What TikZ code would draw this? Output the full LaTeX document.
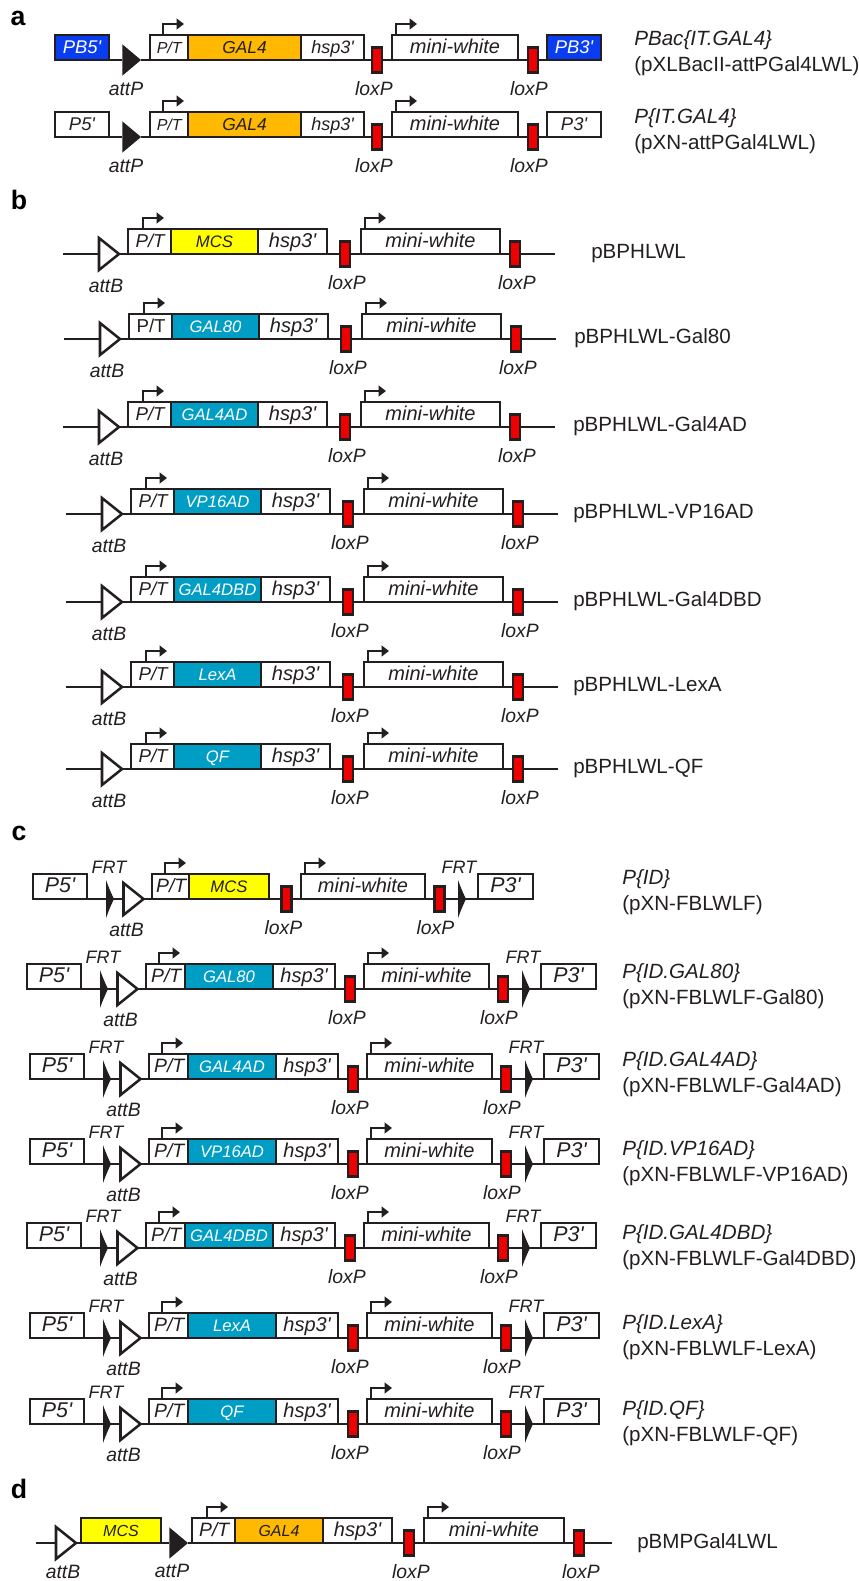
\documentclass[tikz,border=0pt]{standalone}
\usepackage{fontspec}
\setmainfont{Liberation Sans}
\usetikzlibrary{shapes.geometric,arrows.meta}
\definecolor{linedark}{HTML}{231F20}
\definecolor{pbblue}{HTML}{0A3CF0}
\definecolor{galorange}{HTML}{FFB900}
\definecolor{mcsyellow}{HTML}{FFFF00}
\definecolor{genecyan}{HTML}{009DC4}
\definecolor{loxred}{HTML}{EE0000}

\newcommand{\txtsize}[1]{\fontsize{#1}{#1}\selectfont}
\newcommand{\prm}{\textquotesingle}

\tikzset{
  backbone/.style={draw=linedark, line width=1.8pt},
  tss/.style={draw=linedark, line width=1.9pt, -{Triangle[length=5.5pt,width=8pt]}},
  segbox/.style={draw=linedark, line width=2.1pt, fill=white, inner sep=0pt, outer sep=0pt,
    minimum height=18.75pt, text height=9.5pt, text depth=0pt, text=linedark},
  ptseg/.style={segbox, font=\txtsize{\ptfs}},
  hspseg/.style={segbox, font=\txtsize{\hspfs}\itshape},
  mwseg/.style={segbox, line width=1.7pt, font=\txtsize{15}\itshape},
  armseg/.style={segbox, font=\txtsize{\armfs}\itshape},
  pbseg/.style={armseg, fill=pbblue, text=white},
  galseg/.style={segbox, fill=galorange, font=\txtsize{\genefs}\itshape},
  mcsseg/.style={segbox, fill=mcsyellow, font=\txtsize{\genefs}\itshape},
  cyanseg/.style={segbox, fill=genecyan, text=white, font=\txtsize{\genefs}\itshape},
  loxsite/.style={draw=linedark, line width=1.7pt, fill=loxred, inner sep=0pt, outer sep=0pt,
    minimum width=7.5pt, minimum height=18.75pt},
  attbsite/.style={isosceles triangle, isosceles triangle stretches, draw=linedark, line width=1.9pt,
    fill=white, inner sep=0pt, outer sep=0pt, minimum height=15pt, minimum width=24pt, anchor=apex},
  attpsite/.style={isosceles triangle, isosceles triangle stretches, fill=linedark,
    inner sep=0pt, outer sep=0pt, minimum height=14pt, minimum width=23.5pt, anchor=apex},
  sitelabel/.style={font=\txtsize{14.5}\itshape, text=linedark, inner sep=0pt},
  frtlabel/.style={font=\txtsize{13.5}\itshape, text=linedark, inner sep=0pt},
  namelabel/.style={font=\fontsize{15.45}{19.5}\selectfont, text=linedark, inner sep=0pt, anchor=west, align=left},
  panel/.style={font=\fontsize{20}{20}\selectfont\bfseries, inner sep=0pt, anchor=base},
  frtmark/.pic={\fill[linedark] (0,0) .. controls (-2.5,-5) and (-5.5,-12) .. (-8,-19) -- (-8,19)
    .. controls (-5.5,12) and (-2.5,5) .. (0,0);}
}

% name, left, right, row, style, text
\newcommand{\segnode}[6]{%
  \pgfmathsetmacro{\segw}{(#3)-(#2)}
  \node[#5, minimum width=\segw*0.75pt] (#1) at ({((#2)+(#3))/2},{#4-12.5}) {#6};
}

% P/T, gene, hsp3' boxes: left, P/T end, gene end, hsp end, promoter offset
\newcommand{\setlayout}[5]{\def\lpt{#1}\def\lptr{#2}\def\lgr{#3}\def\lhr{#4}\def\ptoff{#5}}
% loxP, mini-white, loxP, and their label offsets
\newcommand{\settail}[6]{\def\lxa{#1}\def\lml{#2}\def\lmr{#3}\def\lxb{#4}\def\lxaoff{#5}\def\lxboff{#6}}

% id, dx, row, shape, gene style, gene
\newcommand{\headunit}[6]{%
  \segnode{#1-pt}{\lpt+#2}{\lptr+#2}{#3}{ptseg}{\hspace*{-3pt}#4 P/T}
  \segnode{#1-gene}{\lptr+#2}{\lgr+#2}{#3}{#5}{#6}
  \draw[tss] (#1-pt.north west) ++(\ptoff,0) -- ++(0,-11) -- ++(21,0);
}
\newcommand{\hspunit}[3]{\segnode{#1-hsp}{\lgr+#2}{\lhr+#2}{#3}{hspseg}{hsp3\prm}}

% id, dx, row, node before first loxP
\newcommand{\tailunit}[4]{%
  \node[loxsite] (#1-lxa) at ({\lxa+#2},#3) {};
  \node[loxsite] (#1-lxb) at ({\lxb+#2},#3) {};
  \segnode{#1-mw}{\lml+#2}{\lmr+#2}{#3}{mwseg}{mini-white}
  \draw[backbone] (#4.south east) -- (#1-lxa.west) (#1-lxa.east) -- (#1-mw.south west)
    (#1-mw.south east) -- (#1-lxb.west);
  \draw[tss] (#1-mw.north west) ++(4,0) -- ++(0,-11) -- ++(21,0);
  \node[sitelabel] (#1-lxat) at ({\lxa+#2+\lxaoff},{#3+29}) {loxP};
  \node[sitelabel] (#1-lxbt) at ({\lxb+#2+\lxboff},{#3+29}) {loxP};
}

% id, dx, row: P5', FRT, attB on the left and FRT, P3' on the right
\newcommand{\flankunit}[3]{%
  \segnode{#1-pf}{\lpa+#2}{\lpb+#2}{#3}{armseg}{P5\prm}
  \node[attbsite] (#1-att) at ({\lat+#2},#3) {};
  \segnode{#1-pr}{\lqa+#2}{\lqb+#2}{#3}{armseg}{P3\prm}
  \draw[backbone] (#1-pf.south east) -- (#1-att.west) (#1-att.apex) -- (#1-pt.south west)
    (#1-lxb.east) -- (#1-pr.south west);
  \pic (#1-frta) at ({\lfa+#2},#3) {frtmark};
  \pic (#1-frtb) at ({\lfb+#2},#3) {frtmark};
  \node[frtlabel] (#1-frtat) at ({\lfa+#2-5},{#3-32}) {FRT};
  \node[frtlabel] (#1-frtbt) at ({\lfb+#2-7},{#3-32}) {FRT};
  \node[sitelabel] (#1-attt) at ({\lat+#2-17},{#3+31}) {attB};
}

\begin{document}
\begin{tikzpicture}[x=0.75pt,y=-0.75pt]
  \useasboundingbox (0,0) rectangle (859,1581);

  \node[panel] (panela) at (18,25) {a};
  \node[panel] (panelb) at (19,209) {b};
  \node[panel] (panelc) at (19,840) {c};
  \node[panel] (paneld) at (19,1498) {d};

  % a
  \def\ptfs{12}\def\genefs{13}\def\hspfs{13.5}\def\armfs{13.8}
  \setlayout{150}{188}{301}{364}{13}
  \settail{377}{392}{518}{533}{-3}{-4}
  \foreach \r/\y/\armsty/\pa/\pb in {a1/60/pbseg/PB5/PB3, a2/137/armseg/P5/P3}{
    \headunit{\r}{0}{\y}{\itshape}{galseg}{GAL4}
    \hspunit{\r}{0}{\y}
    \tailunit{\r}{0}{\y}{\r-hsp}
    \segnode{\r-pf}{55}{109}{\y}{\armsty}{\pa\prm}
    \segnode{\r-pr}{547}{601}{\y}{\armsty}{\pb\prm}
    \node[attpsite] (\r-att) at (141,\y) {};
    \draw[backbone] (\r-pf.south east) -- (\r-att.west) (\r-att.apex) -- (\r-pt.south west)
      (\r-lxb.east) -- (\r-pr.south west);
    \node[sitelabel] (\r-attt) at (126,{\y+29}) {attP};
  }
  \node[namelabel] (a1-name) at (634,53) {{\itshape PBac\{IT.GAL4\}}\\(pXLBacII-attPGal4LWL)};
  \node[namelabel] (a2-name) at (634,131) {{\itshape P\{IT.GAL4\}}\\(pXN-attPGal4LWL)};

  % b
  \def\ptfs{14}\def\genefs{12.5}\def\hspfs{15}
  \setlayout{128}{171}{258}{327}{15}
  \settail{345}{361}{500}{515}{2}{2}
  \foreach \r/\dx/\y/\shp/\gsty/\gene/\lbl/\lx in {
    b1/0/254/\itshape/mcsseg/MCS/pBPHLWL/591,
    b2/1/339/\upshape/cyanseg/GAL80/pBPHLWL-Gal80/574,
    b3/0/427/\itshape/cyanseg/GAL4AD/pBPHLWL-Gal4AD/573,
    b4/3/514/\itshape/cyanseg/VP16AD/pBPHLWL-VP16AD/573,
    b5/3/602/\itshape/cyanseg/GAL4DBD/pBPHLWL-Gal4DBD/573,
    b6/3/687/\itshape/cyanseg/LexA/pBPHLWL-LexA/573,
    b7/3/769/\itshape/cyanseg/QF/pBPHLWL-QF/573}{
    \headunit{\r}{\dx}{\y}{\shp}{\gsty}{\gene}
    \hspunit{\r}{\dx}{\y}
    \tailunit{\r}{\dx}{\y}{\r-hsp}
    \coordinate (\r-start) at ({63+\dx},\y);
    \coordinate (\r-end) at ({555+\dx},\y);
    \node[attbsite] (\r-att) at ({119+\dx},\y) {};
    \draw[backbone] (\r-start) -- (\r-att.west) (\r-att.apex) -- (\r-pt.south west)
      (\r-lxb.east) -- (\r-end);
    \node[sitelabel] (\r-attt) at ({106+\dx},{\y+32}) {attB};
    \node[namelabel] (\r-name) at (\lx,{\y-0.5}) {\lbl};
  }

  % c
  \def\ptfs{14.5}\def\genefs{12.5}\def\hspfs{15}\def\armfs{16}
  \def\lpa{33}\def\lpb{87}\def\lfa{114}\def\lat{143.5}\def\lfb{466}\def\lqa{478}\def\lqb{533}
  \setlayout{152}{189}{269}{269}{13}
  \settail{286.5}{301}{425}{439.5}{-3}{-4}
  \headunit{c1}{0}{899}{\itshape}{mcsseg}{MCS}
  \tailunit{c1}{0}{899}{c1-gene}
  \flankunit{c1}{0}{899}
  \node[namelabel] (c1-name) at (622,892) {{\itshape P\{ID\}}\\(pXN-FBLWLF)};

  \def\lpa{30}\def\lpb{84}\def\lfa{111}\def\lat{140.5}\def\lfb{533}\def\lqa{544}\def\lqb{599}
  \setlayout{149}{188}{276}{338}{13}
  \settail{353}{367}{492}{506}{-3}{-4}
  \foreach \r/\dx/\y/\gene/\cname/\lbl/\ny in {
    c2/-3/989/GAL80/ID.GAL80/pXN-FBLWLF-Gal80/986.5,
    c3/0/1079/GAL4AD/ID.GAL4AD/pXN-FBLWLF-Gal4AD/1074.5,
    c4/0/1164/VP16AD/ID.VP16AD/pXN-FBLWLF-VP16AD/1163.5,
    c5/-3/1248/GAL4DBD/ID.GAL4DBD/pXN-FBLWLF-Gal4DBD/1247.5,
    c6/0/1338/LexA/ID.LexA/pXN-FBLWLF-LexA/1337.5,
    c7/0/1424/QF/ID.QF/pXN-FBLWLF-QF/1423.5}{
    \headunit{\r}{\dx}{\y}{\itshape}{cyanseg}{\gene}
    \hspunit{\r}{\dx}{\y}
    \tailunit{\r}{\dx}{\y}{\r-hsp}
    \flankunit{\r}{\dx}{\y}
    \node[namelabel] (\r-name) at (622,\ny) {{\itshape P\{\cname\}}\\(\lbl)};
  }

  % d
  \def\ptfs{14.5}\def\genefs{12}\def\hspfs{15}
  \setlayout{192}{235}{323}{392}{15}
  \settail{409}{424}{564}{579}{2}{2}
  \headunit{d1}{0}{1543}{\itshape}{galseg}{GAL4}
  \hspunit{d1}{0}{1543}
  \tailunit{d1}{0}{1543}{d1-hsp}
  \segnode{d1-mcs}{81}{161}{1543}{mcsseg}{MCS}
  \coordinate (d1-start) at (36,1543);
  \coordinate (d1-end) at (612,1543);
  \node[attbsite] (d1-attb) at (76,1543) {};
  \node[attpsite] (d1-attp) at (188,1543) {};
  \draw[backbone] (d1-start) -- (d1-attb.west) (d1-attb.apex) -- (d1-mcs.south west)
    (d1-mcs.south east) -- (d1-attp.west) (d1-attp.apex) -- (d1-pt.south west)
    (d1-lxb.east) -- (d1-end);
  \node[sitelabel] (d1-attbt) at (63,1572) {attB};
  \node[sitelabel] (d1-attpt) at (172,1571) {attP};
  \node[namelabel] (d1-name) at (637,1543) {pBMPGal4LWL};
\end{tikzpicture}
\end{document}
